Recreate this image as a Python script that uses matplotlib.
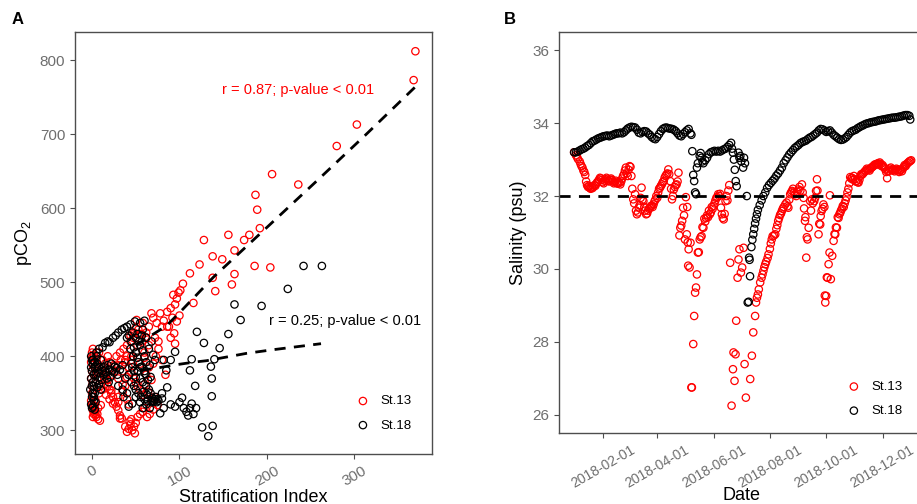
import numpy as np
import matplotlib.pyplot as plt
import matplotlib.dates as mdates

plt.rcParams['font.family'] = ['Liberation Sans', 'DejaVu Sans']
plt.rcParams['mathtext.fontset'] = 'custom'
plt.rcParams['mathtext.rm'] = 'Liberation Sans'
plt.rcParams['mathtext.it'] = 'Liberation Sans'

GREY = '#6e6e6e'
EDGE = '#4d4d4d'

# ---- panel A: stratification index vs pCO2 ----
a13_si = [370, 368, 303, 280, 236, 206, 187, 189, 192, 180, 174, 156, 128, 163, 138, 149, 123, 186, 204, 112,
          163, 138, 160, 104, 141, 101, 116, 93, 97, 99, 95, 90, 86, 92, 97, 100, 82, 78, 74, 70,
          65, 62, 58, 55, 50, 47, 44, 52, 57, 40, 36, 32, 28, 38, 45, 60, 65, 72, 80, 88,
          84, 51, 68, 86, 94, 95, 90, 76,
          0, 1, 0, 2, -1, 1, 0, 2, -1, 1, 0, 2, 0, 1, -1, 0, 2, 1, 3, 4,
          5, 7, 9, 6, 3, 4, 5, 6, 8, 3, 6, 8, 10, 12, 14, 16, 18, 20, 22, 24,
          15, 20, 25, 12, 18, 10, 8,
          26, 28, 30, 32, 34, 30, 35, 38, 40, 42,
          38, 40, 42, 44, 46, 48, 50, 45, 52, 55, 49, 43, 58, 60, 63, 66, 70, 75, 68, 72,
          30, 35, 38, 40, 42, 45, 48, 50, 52, 55, 58, 60, 62, 65, 45, 50, 55, 60, 35, 40,
          64, 68, 70, 73, 76, 80, 22, 30, 32,
          14, 18, 22, 26, 30, 33, 12, 16, 20, 24, 1, 2, 4, 7, 10, 44, 48, 53, 57, 61]
a13_pco2 = [812, 773, 713, 684, 632, 646, 618, 598, 573, 564, 557, 564, 557, 543, 535, 531, 524, 522, 520, 512,
            511, 506, 497, 498, 488, 489, 472, 483, 478, 486, 470, 465, 460, 452, 447, 455, 448, 458, 445, 452,
            440, 432, 445, 430, 438, 425, 420, 415, 420, 415, 410, 405, 400, 395, 400, 405, 415, 425, 440, 440,
            375, 449, 458, 440, 431, 417, 425, 420,
            405, 410, 398, 402, 392, 388, 380, 376, 370, 365, 360, 355, 350, 345, 340, 335, 330, 327, 324, 321,
            318, 315, 313, 322, 333, 340, 395, 400, 405, 385, 378, 372, 380, 385, 370, 375, 360, 355, 350, 345,
            390, 392, 388, 395, 400, 360, 350,
            338, 332, 327, 320, 316, 345, 352, 360, 342, 335,
            305, 298, 302, 308, 300, 305, 310, 315, 318, 322, 296, 312, 325, 330, 318, 322, 328, 334, 340, 345,
            370, 380, 392, 400, 385, 378, 370, 365, 360, 355, 348, 362, 375, 385, 395, 405, 390, 398, 362, 372,
            352, 368, 390, 400, 410, 395, 354, 338, 316,
            362, 368, 375, 380, 388, 395, 355, 348, 342, 336, 318, 322, 326, 330, 334, 428, 432, 436, 430, 426]

a18_si = [-1, 0, 1, -1, 0, 2, -1, 1, 0, -2, 1, 0, 2, -1, 0, 1, 3, 2, 3, 4,
          5, 6, 8, 10, 12, 14, 16, 18, 20, 22, 25, 28,
          5, 8, 12, 15, 18, 20, 24, 27, 30, 34, 37, 40, 44, 49, 55, 60, 58, 52,
          40, 45, 48, 50, 52, 55, 58, 60, 62, 45, 48, 50, 42, 55, 65, 68, 70, 72, 66, 60,
          55, 58, 62, 65,
          45, 48, 50, 53, 56, 60, 64, 68, 70, 72, 74, 76, 73, 62, 66, 58, 55, 50, 40, 35,
          30, 42, 46,
          78, 82, 85, 86, 80, 90, 82, 95, 90, 95, 100, 103, 105, 108, 110, 112, 114, 116, 119, 112,
          114, 120, 128, 126, 133, 138, 137, 137, 136, 140, 146, 156, 163, 170, 194, 224, 242, 263, 118, 80,
          3, 5, 7, 9, 11, 13, 15, 17, 19, 21, 23, 26, 29, 32, 35, 4, 6, 8, 10, 2,
          4, 1, 3, 42, 46, 50, 54, 57, 62, 44, 47, 53, 57, 61, 64, 67, 52, 46, 38, 36,
          69, 71, 75, 67, 63, 59]
a18_pco2 = [400, 395, 390, 385, 380, 375, 370, 365, 360, 355, 350, 345, 340, 335, 330, 395, 385, 360, 350, 375,
            400, 390, 385, 395, 380, 385, 378, 388, 382, 390, 378, 384,
            405, 410, 412, 418, 420, 419, 425, 428, 432, 436, 438, 440, 443, 447, 445, 448, 436, 430,
            425, 420, 412, 405, 398, 415, 408, 400, 392, 390, 380, 372, 375, 385, 410, 420, 402, 395, 388, 380,
            370, 365, 360, 355,
            365, 360, 355, 350, 345, 342, 340, 338, 340, 342, 338, 340, 345, 335, 330, 330, 338, 345, 350, 355,
            360, 332, 336,
            323, 330, 381, 358, 350, 395, 395, 406, 335, 332, 338, 344, 330, 325, 320, 330, 336, 322, 330, 381,
            396, 433, 418, 304, 292, 306, 346, 370, 386, 396, 411, 430, 470, 449, 468, 491, 522, 522, 360, 343,
            392, 385, 378, 372, 368, 375, 382, 370, 365, 372, 380, 386, 375, 382, 388, 365, 358, 362, 355, 345,
            338, 332, 328, 428, 432, 425, 420, 428, 425, 410, 400, 392, 386, 376, 368, 372, 380, 385, 370, 345,
            344, 339, 342, 350, 348, 352]

# loess-like fitted curves
fit13_si = [50, 85, 101, 139, 200, 260, 313, 370]
fit13_pco2 = [415, 441, 460, 507, 574, 640, 699, 764]
fit18_si = [55, 74, 93, 116, 131, 154, 177, 208, 235, 262]
fit18_pco2 = [381, 384, 388, 392, 394, 399, 404, 409, 413, 417]

# ---- panel B: salinity time series (day offset from 2018-01-01) ----
b18_day = [0, 2, 4, 6, 8, 10, 12, 14, 16, 18, 20, 22, 24, 26, 28, 30, 32, 34, 36, 38,
           40, 42, 44, 46, 48, 50, 52, 54, 56, 58, 60, 62, 64, 66, 68, 70, 72, 74, 76, 78,
           80, 82, 84, 86, 88, 90, 92, 94, 96, 98, 100, 102, 104, 106, 108, 110, 112, 114, 116, 118,
           120, 122, 124, 126, 127,
           128, 129, 130, 131, 132, 133, 134, 136, 137, 138, 139, 140, 142, 144, 146, 148, 150, 152, 154, 156,
           158, 160, 162, 164, 166, 168, 170, 171, 172, 173, 174, 175, 176, 178, 179, 180, 181, 183, 184, 185,
           187, 188, 189, 189.5, 190, 190.5, 192, 193, 194, 195, 196, 197, 198, 199, 201, 203, 205, 207, 209, 211,
           213, 215, 217, 219, 221, 223, 225, 227, 229, 231, 233, 235, 237, 239, 241, 243, 245, 247, 249, 251,
           253, 255, 257, 259, 261, 263, 265, 267, 269, 271, 273, 275, 277, 279, 281, 283, 285, 287, 289, 291,
           293, 295, 297, 299, 301, 303, 305, 307, 309, 311, 313, 315, 317, 319, 321, 323, 325, 327, 329, 331,
           333, 335, 337, 339, 341, 343, 345, 347, 349, 351, 353, 355, 357, 359, 361, 363, 364]
b18_sal = [33.20, 33.20, 33.22, 33.25, 33.28, 33.30, 33.33, 33.37, 33.40, 33.45, 33.50, 33.52, 33.55, 33.58, 33.60, 33.62, 33.64, 33.65, 33.66, 33.64,
           33.66, 33.68, 33.70, 33.72, 33.72, 33.74, 33.72, 33.75, 33.80, 33.85, 33.88, 33.90, 33.89, 33.88, 33.82, 33.74, 33.72, 33.76, 33.78, 33.77,
           33.72, 33.68, 33.62, 33.58, 33.56, 33.62, 33.70, 33.78, 33.84, 33.87, 33.88, 33.86, 33.85, 33.84, 33.82, 33.78, 33.72, 33.66, 33.64, 33.70,
           33.75, 33.80, 33.84, 33.72, 33.68,
           33.23, 32.58, 32.41, 32.10, 32.05, 32.78, 32.90, 33.10, 33.18, 33.05, 32.95, 32.90, 32.98, 33.05, 33.15, 33.20, 33.22, 33.24, 33.22, 33.24,
           33.22, 33.25, 33.28, 33.30, 33.35, 33.40, 33.46, 33.30, 33.19, 33.00, 32.72, 32.41, 32.27, 33.19, 33.05, 33.10, 32.95, 32.78, 33.05, 32.90,
           32.00, 29.08, 29.10, 30.31, 30.25, 29.80, 30.60, 30.80, 30.95, 31.10, 31.25, 31.38, 31.50, 31.62, 31.75, 31.88, 32.00, 32.10, 32.22, 32.30,
           32.36, 32.42, 32.48, 32.56, 32.62, 32.70, 32.78, 32.90, 32.98, 33.06, 33.14, 33.20, 33.26, 33.32, 33.36, 33.40, 33.45, 33.48, 33.50, 33.52,
           33.56, 33.60, 33.62, 33.66, 33.70, 33.74, 33.80, 33.84, 33.83, 33.80, 33.76, 33.78, 33.80, 33.74, 33.68, 33.64, 33.60, 33.56, 33.54, 33.55,
           33.58, 33.62, 33.68, 33.74, 33.78, 33.80, 33.82, 33.86, 33.89, 33.92, 33.94, 33.97, 33.99, 34.00, 34.02, 34.03, 34.04, 34.05, 34.07, 34.08,
           34.09, 34.10, 34.11, 34.12, 34.13, 34.14, 34.15, 34.15, 34.16, 34.17, 34.18, 34.19, 34.21, 34.22, 34.22, 34.20, 34.10]

b13_day = [0, 2, 3, 4, 6, 7, 8, 9, 10, 11, 12, 13, 14, 15, 16, 17, 18, 19, 20, 21,
           22, 23, 24, 25, 26, 27, 28, 29, 30, 31, 32, 33, 34, 35, 36, 37, 38, 39, 40, 41,
           42, 43, 44, 45, 46, 47, 48, 49, 50, 51, 52, 53, 54, 55, 56, 57, 58, 59, 60, 61,
           62, 63, 64, 65, 66, 67, 68, 69, 70, 71, 72, 73, 74, 75, 76, 77, 78, 79, 80, 81,
           82, 83, 84, 85, 86, 87, 88, 89, 90, 91, 92, 93, 94, 95, 96, 97, 98, 99, 100, 101,
           102, 103, 104, 105, 106, 107, 108, 109, 110, 111, 112, 113, 114, 115, 116, 117, 118, 119, 120, 121,
           122, 122.5, 123, 123.5, 124, 125, 126, 127, 127.5, 129, 130, 131, 132, 133, 134, 135, 136, 137, 138, 139,
           140, 141, 142, 143, 144, 145, 146, 147, 148, 149, 150, 151, 152, 153, 154, 155, 156, 157, 158, 159,
           160, 161, 162, 163, 164, 165, 166, 167, 168, 169, 170.5, 172, 172.6, 173.7, 174.8, 175.5, 177, 178, 179, 180.6,
           182, 183.5, 184.6, 186, 190.7, 192.5, 194, 196, 197, 198, 199, 200, 201.5, 203, 204, 205, 206, 207, 208, 209.5,
           210.5, 212, 213, 214, 215, 216.5, 217.8, 219, 220, 221, 222, 223, 224, 225, 226, 227, 228.6, 230, 231, 232,
           233, 234, 235, 236, 237, 238, 239.4, 240.5, 241.5, 243, 244, 245, 246.7, 247.5, 248.5, 249, 250, 250.5, 251.4, 252,
           252.8, 254, 255.7, 256.5, 257.5, 258.5, 260, 261, 262, 263, 263.5, 264.7, 265.5, 266.5, 267, 268, 269, 270, 271, 271.5,
           272, 273, 273.7, 274.5, 275.6, 276.6, 277, 278, 279.5, 281, 282, 282.8, 283.5, 284.6, 285.5, 286.4, 287.3, 288.2, 289, 290,
           291, 292, 293, 294, 295, 296, 297, 298, 299, 300, 301, 302, 303, 304, 305, 306, 307, 308, 309, 310,
           311, 312, 313, 314, 315, 316, 317, 318, 319, 320, 321, 322, 323, 324, 325, 326, 327, 328, 329, 330,
           331, 332, 333, 334, 335, 336, 337, 338, 339, 340, 341, 342, 343, 344, 345, 346, 347, 348, 349, 350,
           351, 352, 353, 354, 355, 356, 357, 358, 359, 360, 361, 362, 363, 364, 365]
b13_sal = [33.20, 33.12, 33.08, 33.02, 32.95, 32.88, 32.82, 32.78, 32.70, 32.66, 32.58, 32.40, 32.30, 32.25, 32.28, 32.22, 32.20, 32.24, 32.22, 32.26,
           32.30, 32.28, 32.34, 32.38, 32.40, 32.45, 32.50, 32.48, 32.44, 32.38, 32.35, 32.42, 32.46, 32.50, 32.45, 32.42, 32.40, 32.45, 32.48, 32.44,
           32.40, 32.35, 32.38, 32.42, 32.36, 32.34, 32.38, 32.36, 32.32, 32.40, 32.48, 32.55, 32.60, 32.70, 32.78, 32.62, 32.55, 32.72, 32.82, 32.80,
           32.55, 32.20, 31.91, 31.80, 32.05, 31.60, 31.50, 31.55, 31.68, 31.75, 31.95, 32.23, 31.90, 31.86, 31.70, 31.60, 31.50, 31.52, 31.60, 31.65,
           31.68, 31.72, 31.74, 31.70, 31.77, 31.85, 31.90, 32.00, 31.95, 32.10, 32.20, 32.23, 32.28, 32.32, 32.38, 32.41, 32.50, 32.55, 32.59, 32.62,
           32.73, 32.60, 32.41, 32.20, 31.91, 32.00, 32.18, 32.25, 32.30, 32.32, 32.40, 32.64, 30.92, 31.13, 31.19, 31.32, 31.68, 31.47, 30.81, 31.97,
           30.95, 31.70, 30.73, 30.09, 30.54, 30.04, 30.72, 26.75, 26.75, 27.94, 28.71, 29.35, 29.49, 29.85, 30.45, 30.46, 30.81, 30.87, 30.90, 31.15,
           31.13, 31.38, 31.30, 31.40, 31.47, 31.42, 31.60, 31.50, 31.55, 31.70, 31.65, 31.73, 31.80, 31.88, 31.95, 31.97, 32.05, 32.00, 32.06, 31.68,
           31.50, 31.40, 31.36, 31.51, 31.86, 32.00, 31.88, 32.15, 32.30, 30.17, 26.25, 27.25, 27.71, 26.93, 27.66, 28.58, 29.76, 30.26, 30.54, 29.90,
           30.04, 30.58, 27.39, 26.47, 26.98, 27.62, 28.26, 28.71, 29.08, 29.21, 29.30, 29.44, 29.63, 29.76, 29.85, 29.95, 30.05, 30.13, 30.20, 30.30,
           30.40, 30.55, 30.70, 30.81, 30.90, 30.92, 30.95, 31.10, 31.20, 31.32, 31.40, 31.48, 31.52, 31.59, 31.65, 31.70, 31.77, 31.82, 31.72, 31.68,
           31.90, 32.05, 32.10, 32.14, 32.20, 32.10, 32.05, 32.00, 32.12, 32.18, 32.25, 32.15, 32.32, 32.10, 31.95, 31.66, 31.32, 31.42, 30.31, 30.87,
           30.81, 31.13, 31.86, 31.60, 31.91, 31.80, 31.86, 31.95, 32.14, 32.46, 32.15, 30.95, 31.24, 31.22, 31.45, 31.59, 31.65, 31.77, 31.70, 29.27,
           29.08, 29.26, 29.77, 29.76, 30.13, 30.45, 32.02, 29.72, 30.36, 30.77, 30.96, 30.95, 31.14, 31.13, 31.42, 31.40, 31.50, 31.54, 31.60, 31.65,
           31.73, 31.70, 31.80, 31.88, 31.97, 32.10, 32.20, 32.35, 32.52, 32.48, 32.50, 32.45, 32.55, 32.46, 32.40, 32.42, 32.38, 32.37, 32.45, 32.55,
           32.60, 32.59, 32.62, 32.65, 32.68, 32.70, 32.75, 32.72, 32.73, 32.70, 32.76, 32.78, 32.80, 32.82, 32.85, 32.87, 32.86, 32.88, 32.90, 32.87,
           32.92, 32.88, 32.82, 32.85, 32.80, 32.78, 32.73, 32.66, 32.49, 32.68, 32.70, 32.75, 32.78, 32.72, 32.70, 32.73, 32.68, 32.72, 32.75, 32.70,
           32.73, 32.66, 32.70, 32.72, 32.68, 32.75, 32.80, 32.85, 32.82, 32.87, 32.90, 32.92, 32.95, 32.96, 32.98]

threshold = 32
tick_dates = ['2018-02-01', '2018-04-01', '2018-06-01', '2018-08-01', '2018-10-01', '2018-12-01']

start = np.datetime64('2018-01-01T00:00')


def to_dates(days):
    return start + (np.array(days) * 24 * 60).astype('timedelta64[m]')


def style_axes(ax):
    for s in ax.spines.values():
        s.set_color(EDGE)
        s.set_linewidth(1.0)
    ax.tick_params(colors=EDGE, labelcolor=GREY, labelsize=11, length=3.5, width=0.8)


fig = plt.figure(figsize=(9.17, 5.04), dpi=100)
W, H = 917, 504
axA = fig.add_axes([75 / W, 1 - 454 / H, 357 / W, 422 / H])
axB = fig.add_axes([559 / W, 1 - 433 / H, 366 / W, 401 / H])

mk = dict(s=28, facecolors='none', linewidths=0.9)

# panel A (St.13 first, St.18 drawn over it)
axA.scatter(a13_si, a13_pco2, edgecolors='red', label='St.13', **mk)
axA.scatter(a18_si, a18_pco2, edgecolors='black', label='St.18', **mk)
axA.plot(fit13_si, fit13_pco2, color='black', ls=(0, (4, 3)), lw=2)
axA.plot(fit18_si, fit18_pco2, color='black', ls=(0, (4, 3)), lw=2)
axA.set_xlim(-19.5, 389)
axA.set_ylim(268, 838)
axA.set_xticks([0, 100, 200, 300])
axA.set_yticks([300, 400, 500, 600, 700, 800])
style_axes(axA)
plt.setp(axA.get_xticklabels(), rotation=30)
axA.set_xlabel('Stratification Index', fontsize=13, labelpad=0)
axA.set_ylabel('pCO$_2$', fontsize=13)
axA.text(149, 759, 'r = 0.87; p-value < 0.01', color='red', fontsize=10.5, va='center')
axA.text(202, 447, 'r = 0.25; p-value < 0.01', color='black', fontsize=10.5, va='center')
axA.legend(loc='lower right', bbox_to_anchor=(0.975, 0.025), frameon=False,
           fontsize=9.5, handletextpad=0.3, labelspacing=0.9)

# panel B
axB.scatter(to_dates(b13_day), b13_sal, edgecolors='red', label='St.13', **mk)
axB.scatter(to_dates(b18_day), b18_sal, edgecolors='black', label='St.18', **mk)
axB.axhline(threshold, color='black', ls=(0, (4, 3)), lw=2)
axB.set_xlim(to_dates([-16.4])[0], to_dates([380])[0])
axB.set_ylim(25.5, 36.5)
axB.set_yticks([26, 28, 30, 32, 34, 36])
axB.set_xticks(np.array(tick_dates, dtype='datetime64[D]'))
axB.xaxis.set_major_formatter(mdates.DateFormatter('%Y-%m-%d'))
style_axes(axB)
plt.setp(axB.get_xticklabels(), rotation=30, ha='center', fontsize=10)
axB.set_xlabel('Date', fontsize=13)
axB.xaxis.set_label_coords(0.5, -0.135)
axB.set_ylabel('Salinity (psu)', fontsize=13)
axB.legend(loc='lower right', bbox_to_anchor=(0.97, 0.01), frameon=False,
           fontsize=9.5, handletextpad=0.3, labelspacing=0.9)

fig.text(12 / W, 1 - 20 / H, 'A', fontsize=12, fontweight='bold', va='center')
fig.text(504 / W, 1 - 20 / H, 'B', fontsize=12, fontweight='bold', va='center')

fig.savefig('out.png', dpi=100)
